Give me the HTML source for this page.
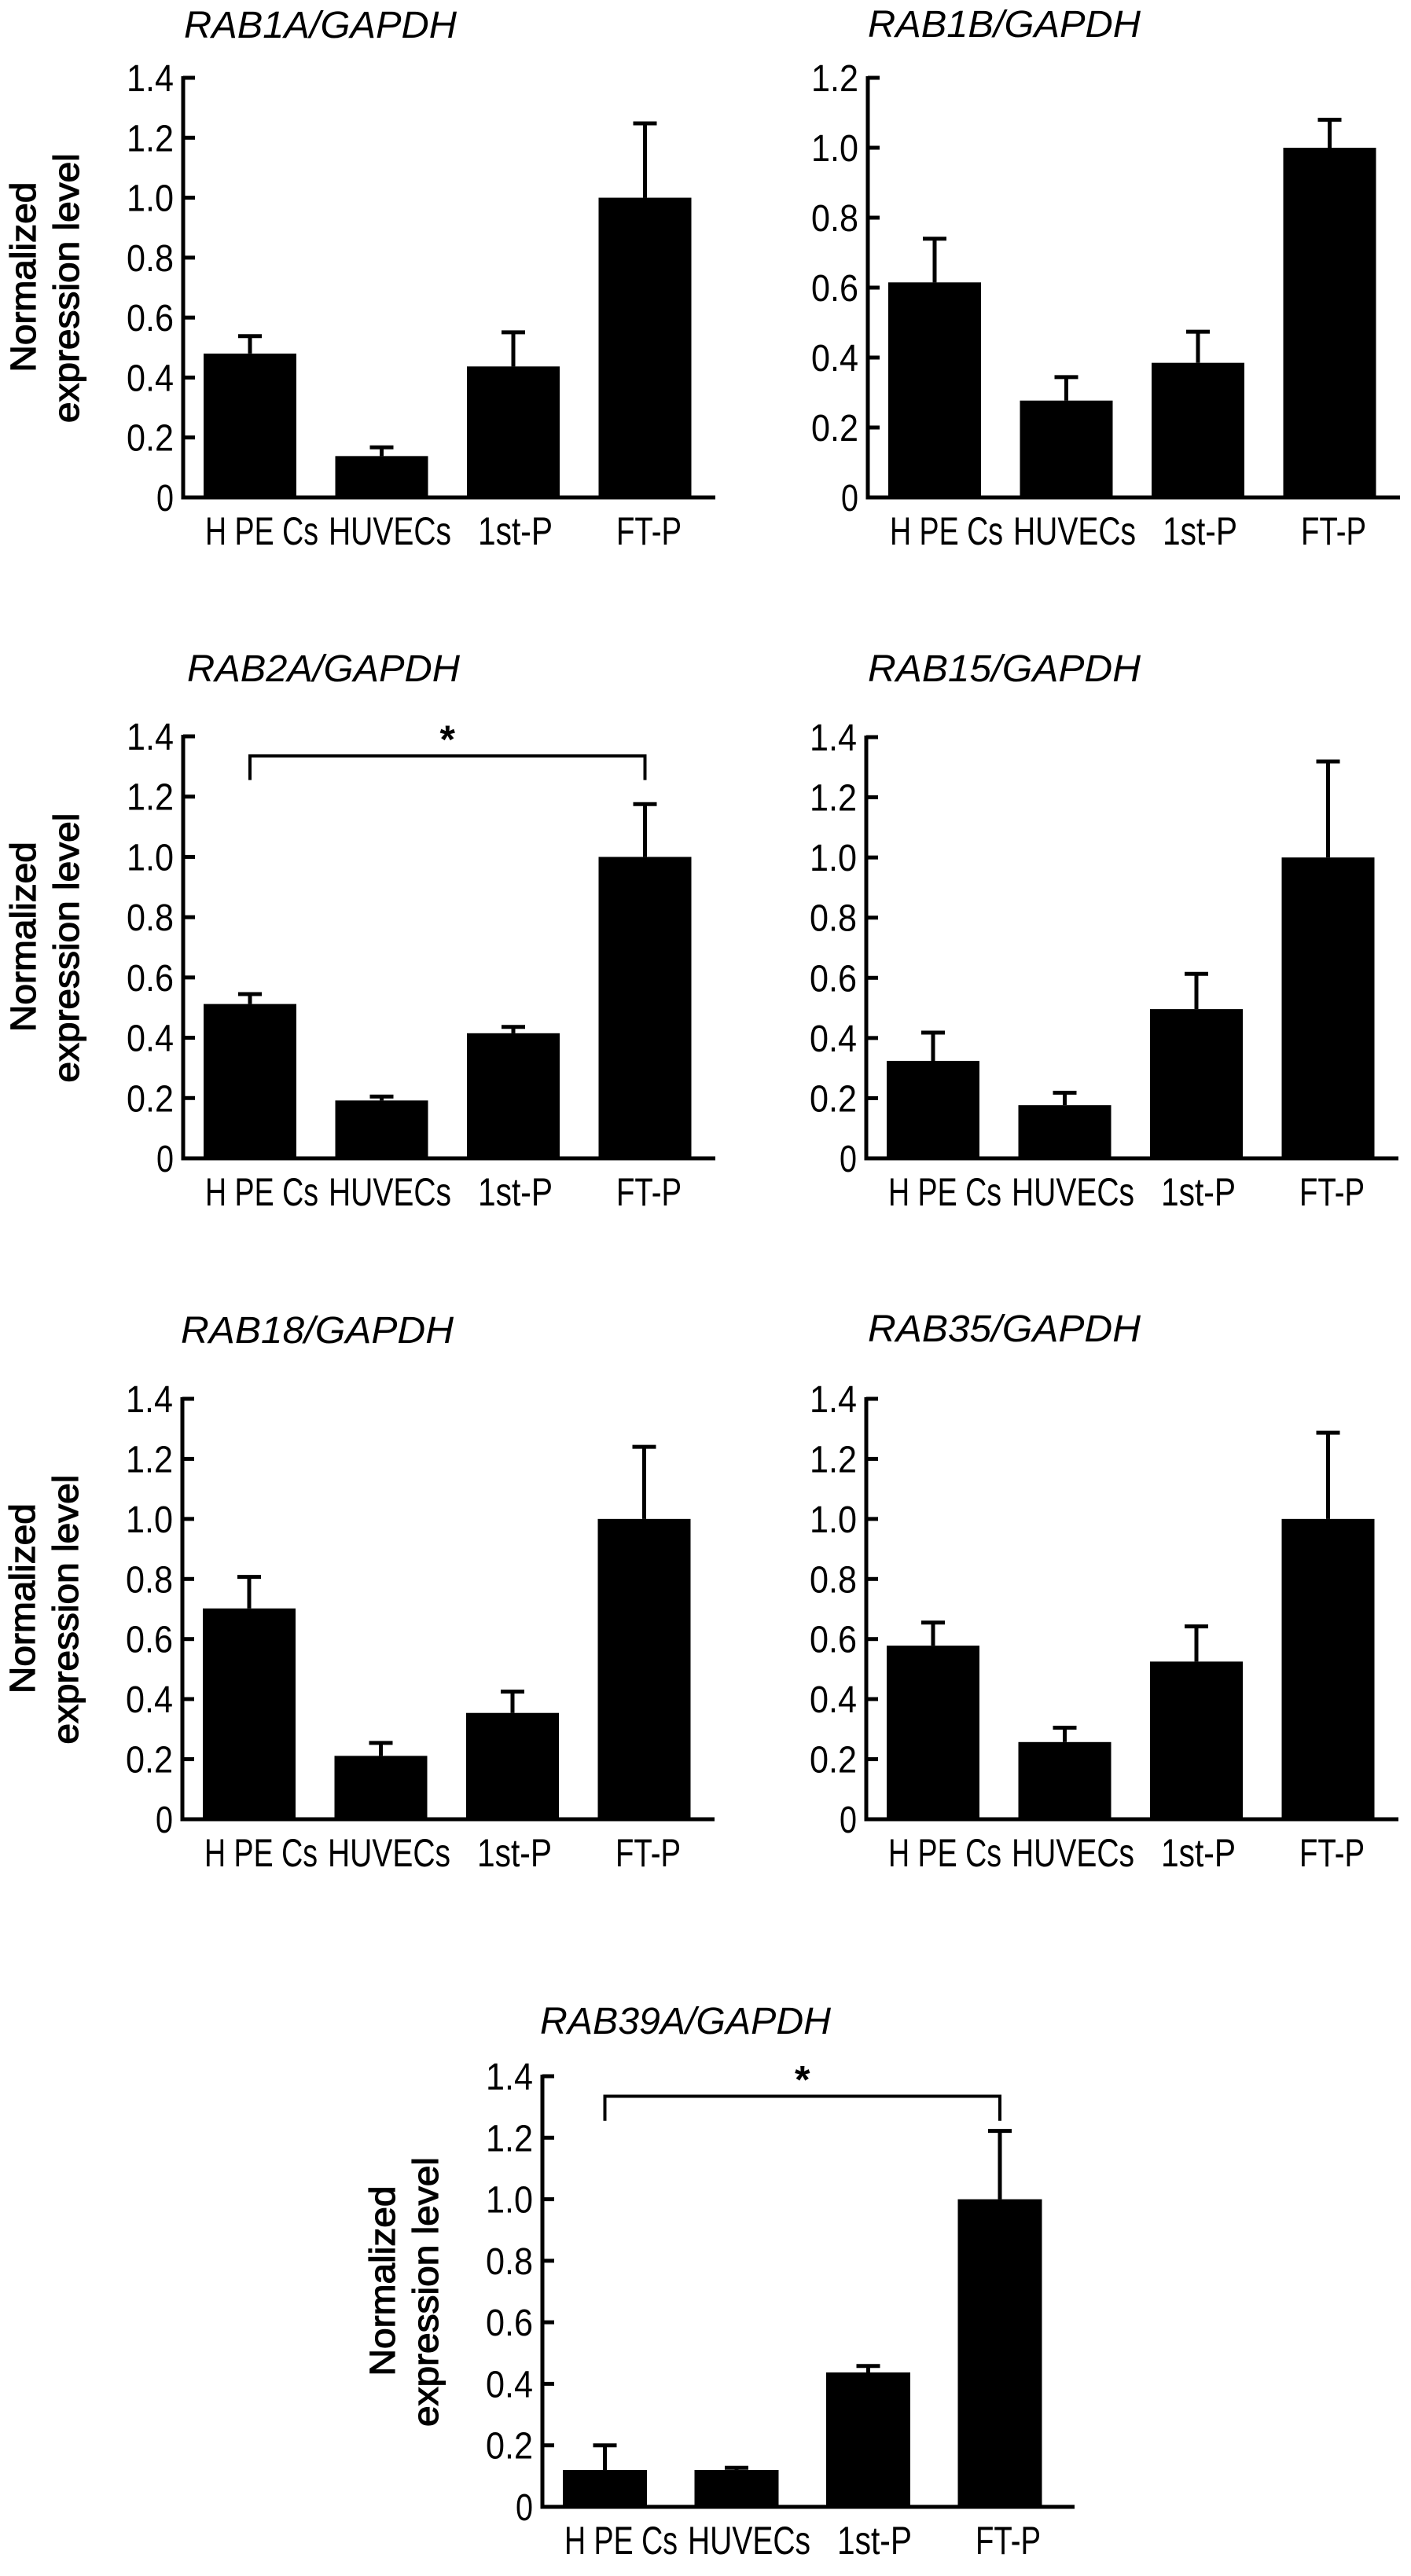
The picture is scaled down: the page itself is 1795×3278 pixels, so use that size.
<!DOCTYPE html>
<html><head><meta charset="utf-8"><style>
html,body{margin:0;padding:0;background:#fff;}
svg{display:block;}
text{font-family:"Liberation Sans",Arial,sans-serif;fill:#000;}
</style></head>
<body>
<svg id="fig" width="1795" height="3278" viewBox="0 0 1795 3278" xmlns="http://www.w3.org/2000/svg"></svg>
<script>
const categories = ["H PE Cs","HUVECs","1st-P","FT-P"];
const titles = ["RAB1A/GAPDH","RAB1B/GAPDH","RAB2A/GAPDH","RAB15/GAPDH","RAB18/GAPDH","RAB35/GAPDH","RAB39A/GAPDH"];
const valsRAB1A = [0.48,0.138,0.437,1.0];
const errsRAB1A = [0.538,0.167,0.551,1.248];
const valsRAB1B = [0.615,0.277,0.385,1.0];
const errsRAB1B = [0.740,0.344,0.474,1.08];
const valsRAB2A = [0.512,0.192,0.415,1.0];
const errsRAB2A = [0.545,0.205,0.436,1.175];
const valsRAB15 = [0.324,0.177,0.496,1.0];
const errsRAB15 = [0.418,0.218,0.613,1.319];
const valsRAB18 = [0.702,0.211,0.354,1.0];
const errsRAB18 = [0.807,0.254,0.425,1.240];
const valsRAB35 = [0.578,0.257,0.525,1.0];
const errsRAB35 = [0.655,0.305,0.642,1.287];
const valsRAB39A = [0.12,0.12,0.437,1.0];
const errsRAB39A = [0.20,0.127,0.458,1.222];
const ticks14 = [0,0.2,0.4,0.6,0.8,1.0,1.2,1.4];
const ticks12 = [0,0.2,0.4,0.6,0.8,1.0,1.2];
const tickLabels14 = ["0","0.2","0.4","0.6","0.8","1.0","1.2","1.4"];
const tickLabels12 = ["0","0.2","0.4","0.6","0.8","1.0","1.2"];

const NS = "http://www.w3.org/2000/svg";
const svg = document.getElementById("fig");
function mk(tag, attrs, parent){
  const e = document.createElementNS(NS, tag);
  for (const k in attrs) e.setAttribute(k, attrs[k]);
  (parent||svg).appendChild(e);
  return e;
}

const panels = [
  {id:"rab1a", title:titles[0], vals:valsRAB1A, errs:errsRAB1A, ax:233, zero:633, top:99, max:1.4, ticks:ticks14, tl:tickLabels14, ylab:true, tx:234, ty:48, bw:118},
  {id:"rab1b", title:titles[1], vals:valsRAB1B, errs:errsRAB1B, ax:1104, zero:633, top:99, max:1.2, ticks:ticks12, tl:tickLabels12, ylab:false, tx:1104, ty:47, bw:118},
  {id:"rab2a", title:titles[2], vals:valsRAB2A, errs:errsRAB2A, ax:233, zero:1474, top:937, max:1.4, ticks:ticks14, tl:tickLabels14, ylab:true, tx:238, ty:867, bw:118, sig:true},
  {id:"rab15", title:titles[3], vals:valsRAB15, errs:errsRAB15, ax:1102, zero:1474, top:938, max:1.4, ticks:ticks14, tl:tickLabels14, ylab:false, tx:1104, ty:867, bw:118},
  {id:"rab18", title:titles[4], vals:valsRAB18, errs:errsRAB18, ax:232, zero:2315, top:1780, max:1.4, ticks:ticks14, tl:tickLabels14, ylab:true, tx:230, ty:1709, bw:118},
  {id:"rab35", title:titles[5], vals:valsRAB35, errs:errsRAB35, ax:1102, zero:2315, top:1780, max:1.4, ticks:ticks14, tl:tickLabels14, ylab:false, tx:1104, ty:1707, bw:118},
  {id:"rab39a", title:titles[6], vals:valsRAB39A, errs:errsRAB39A, ax:690, zero:3190, top:2642, max:1.4, ticks:ticks14, tl:tickLabels14, ylab:true, tx:687, ty:2588, bw:107, sig:true}
];
const labelOffsets = [[28,144],[185,156],[375,95],[551,83]];

panels.forEach(p => {
  const g = mk("g", {});
  
  
  const y = v => p.zero - (v / p.max) * (p.zero - p.top);
  const step = 167.5;
  const cx = i => p.ax + 26 + p.bw/2 + i*step;

  const t = mk("text", {x:p.tx, y:p.ty, "font-size":48, "font-style":"italic", textLength:p.title.length>11?370:347, lengthAdjust:"spacingAndGlyphs"}, g);
  t.textContent = p.title;
  
  

  if (p.ylab) {
    const cy = p.zero - 0.51*(p.zero - p.top);
    const l1 = mk("text", {x:0, y:0, "font-size":45, "text-anchor":"middle", stroke:"#000", "stroke-width":1.2, textLength:242, lengthAdjust:"spacingAndGlyphs", transform:`translate(${p.ax-188},${cy-8}) rotate(-90)`}, g);
    l1.textContent = "Normalized";
    
    
    const l2 = mk("text", {x:0, y:0, "font-size":45, "text-anchor":"middle", stroke:"#000", "stroke-width":1.2, textLength:343, lengthAdjust:"spacingAndGlyphs", transform:`translate(${p.ax-133},${cy+6}) rotate(-90)`}, g);
    l2.textContent = "expression level";
    
    
  }

  const axis = mk("path", {d:`M${p.ax},${p.top-2} V${p.zero} H${p.ax+677}`, stroke:"#000", "stroke-width":5, fill:"none"}, g);
  
  

  p.ticks.forEach((v, i) => {
    const tk = mk("line", {x1:p.ax, x2:p.ax+15, y1:y(v), y2:y(v), stroke:"#000", "stroke-width":5}, g);
    
    
    const lbl = p.tl[i];
    const attrs = {x:p.ax-12, y:y(v)+17, "font-size":48, "text-anchor":"end"};
    if (lbl.length === 3) { attrs.textLength = 60; attrs.lengthAdjust = "spacingAndGlyphs"; }
    else { attrs.textLength = 22; attrs.lengthAdjust = "spacingAndGlyphs"; }
    const tt = mk("text", attrs, g);
    tt.textContent = lbl;
    
    
  });

  categories.forEach((c, i) => {
    const x0 = cx(i) - p.bw/2;
    const bar = mk("rect", {x:x0, y:y(p.vals[i]), width:p.bw, height:p.zero - y(p.vals[i]), fill:"#000"}, g);
    
    
    const eb = mk("path", {d:`M${cx(i)},${y(p.vals[i])} V${y(p.errs[i])} M${cx(i)-15},${y(p.errs[i])} H${cx(i)+15}`, stroke:"#000", "stroke-width":5, fill:"none"}, g);
    
    
    const lo = labelOffsets[i];
    const xl = mk("text", {x:p.ax + lo[0], y:p.zero + 60, "font-size":50, textLength:lo[1], lengthAdjust:"spacingAndGlyphs"}, g);
    xl.textContent = c;
    
    
  });

  if (p.sig) {
    const yb = y(1.335), yl = y(1.255);
    const br = mk("path", {d:`M${cx(0)},${yl} V${yb} H${cx(3)} V${yl}`, stroke:"#000", "stroke-width":4, fill:"none"}, g);
    
    
    const st = mk("text", {x:(cx(0)+cx(3))/2, y:yb - 4, "font-size":50, "font-weight":"bold", "text-anchor":"middle"}, g);
    st.textContent = "*";
    
    
  }
});
</script>
</body></html>
